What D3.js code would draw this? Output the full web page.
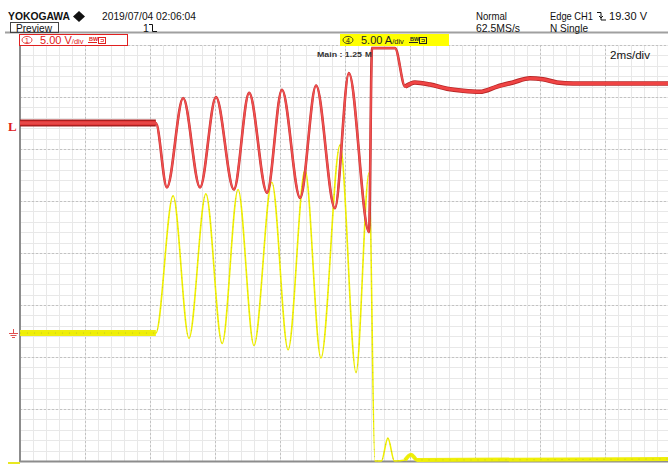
<!DOCTYPE html>
<html>
<head>
<meta charset="utf-8">
<script src="https://cdn.jsdelivr.net/npm/d3@7"></script>
<style>
  body { margin: 0; background: #fff; }
  svg { display: block; font-family: "Liberation Sans", Arial, sans-serif; }
</style>
</head>
<body>
<svg id="scope" width="668" height="464"></svg>
<script>
// CH1 voltage (V) vs time (ms, 0 = screen centre)
const ch1Time = [-10, -5.82, -5.48, -4.98, -4.46, -3.97, -3.42, -2.95, -2.40, -1.94, -1.38, -0.89, -0.31, 0.12, 0.74,
                 0.83, 1.54, 1.85, 2.15, 2.62, 3.14, 3.63, 4.15, 4.68, 5.17, 5.69, 6.09, 6.52, 7.02, 7.45, 10];
const ch1Volt = [20.2, 20.2, 14.0, 22.6, 14.0, 22.7, 13.8, 23.1, 13.5, 23.4, 13.0, 23.8, 12.0, 25.0, 9.7,
                 27.4, 27.4, 23.7, 24.1, 23.9, 23.5, 23.3, 23.2, 23.7, 24.1, 24.5, 24.4, 24.1, 24.0, 24.0, 24.0];

// CH4 current (A) vs time (ms)
const ch4Time = [-10, -5.82, -5.29, -4.80, -4.28, -3.78, -3.29, -2.80, -2.25, -1.75, -1.23, -0.74, -0.15, 0.34, 0.74,
                 0.92, 1.12, 1.32, 1.52, 1.85, 2.03, 2.22, 10];
const ch4Amp = [12.3, 12.3, 25.5, 11.8, 25.7, 11.3, 26.1, 11.1, 26.8, 10.7, 28.0, 9.9, 30.4, 8.5, 27.7,
                0, 0, 2.2, 0, 0.1, 0.6, 0.1, 0.2];

const timeDivs = d3.range(-10, 11, 2);     // 2 ms/div, 10 div
const vertDivs = d3.range(-4, 5, 1);       // 8 div
const ch1Pos = -1.54, ch4Pos = -4;         // ground positions in div
const ch1PerDiv = 5, ch4PerDiv = 5;

const svg = d3.select('#scope');

let x = d3.scaleLinear().domain([-10, 10]).range([20, 670]);
let yDiv = d3.scaleLinear().domain([-4, 4]).range([461, 45]);
let yCh1 = d3.scaleLinear()
  .domain([(-4 - ch1Pos) * ch1PerDiv, (4 - ch1Pos) * ch1PerDiv]).range([461, 45]);
let yCh4 = d3.scaleLinear()
  .domain([(-4 - ch4Pos) * ch4PerDiv, (4 - ch4Pos) * ch4PerDiv]).range([461, 45]);

// grid
let grid = svg.append('g').attr('shape-rendering', 'crispEdges');

grid.selectAll('.vmin').data(d3.range(-10, 10.001, 0.4)).join('line')
  .attr('x1', d => Math.round(x(d)) + 0.5).attr('x2', d => Math.round(x(d)) + 0.5)
  .attr('y1', 45).attr('y2', 461)
  .attr('stroke', '#e8e8e8');
grid.selectAll('.hmin').data(d3.range(-4, 4.001, 0.2)).join('line')
  .attr('y1', d => Math.round(yDiv(d)) + 0.5).attr('y2', d => Math.round(yDiv(d)) + 0.5)
  .attr('x1', 20).attr('x2', 668)
  .attr('stroke', '#e8e8e8');
grid.selectAll('.vmaj').data(timeDivs).join('line')
  .attr('x1', d => Math.round(x(d)) + 0.5).attr('x2', d => Math.round(x(d)) + 0.5)
  .attr('y1', 45).attr('y2', 461)
  .attr('stroke', '#c2c2c2').attr('stroke-dasharray', '2,2');
grid.selectAll('.hmaj').data(vertDivs).join('line')
  .attr('y1', d => Math.round(yDiv(d)) + 0.5).attr('y2', d => Math.round(yDiv(d)) + 0.5)
  .attr('x1', 20).attr('x2', 668)
  .attr('stroke', '#c2c2c2').attr('stroke-dasharray', '2,2');

// frame
svg.append('line').attr('x1', 20).attr('x2', 20).attr('y1', 45).attr('y2', 462)
  .attr('stroke', '#8c8c8c').attr('stroke-width', 2);
svg.append('line').attr('x1', 19).attr('x2', 668).attr('y1', 461.5).attr('y2', 461.5)
  .attr('stroke', '#8c8c8c').attr('stroke-width', 2);
svg.append('line').attr('x1', 5).attr('x2', 668).attr('y1', 32.5).attr('y2', 32.5)
  .attr('stroke', '#a0a0a0').attr('stroke-width', 2);

// traces
svg.append('clipPath').attr('id', 'clip')
  .append('rect').attr('x', 20).attr('y', 44).attr('width', 650).attr('height', 419);

let ch1 = ch1Time.map((t, i) => ({ t: t, v: ch1Volt[i] }));
let ch4 = ch4Time.map((t, i) => ({ t: t, v: ch4Amp[i] }));

let line1 = d3.line().x(d => x(d.t)).y(d => yCh1(d.v)).curve(d3.curveMonotoneX);
let line4 = d3.line().x(d => x(d.t)).y(d => yCh4(d.v)).curve(d3.curveMonotoneX);

let traces = svg.append('g').attr('clip-path', 'url(#clip)').attr('fill', 'none')
  .attr('stroke-linejoin', 'round');

// CH4 (yellow)
traces.append('path').attr('d', line4(ch4.filter(d => d.t <= -5.82)))
  .attr('stroke', '#eeee10').attr('stroke-width', 6);
traces.append('path').attr('d', line4(ch4.filter(d => d.t >= 1.85)))
  .attr('stroke', '#eeee10').attr('stroke-width', 4);
traces.append('path').attr('d', line4(ch4))
  .attr('stroke', '#f0f000').attr('stroke-width', 1.6);
traces.append('path').attr('d', line4(ch4))
  .attr('stroke', '#9a9a50').attr('stroke-width', 0.8).attr('stroke-opacity', 0.6)
  .attr('stroke-dasharray', '1,6');

// CH1 (red)
traces.append('path').attr('d', line1(ch1.filter(d => d.t <= -5.82)))
  .attr('stroke', '#a82020').attr('stroke-width', 7);
traces.append('path').attr('d', line1(ch1.filter(d => d.t <= -5.82)))
  .attr('stroke', '#ee3c3c').attr('stroke-width', 4);
traces.append('path').attr('d', line1(ch1.filter(d => d.t >= 1.8)))
  .attr('stroke', '#b82828').attr('stroke-width', 4.6);
traces.append('path').attr('d', line1(ch1))
  .attr('stroke', '#c83030').attr('stroke-width', 2.6);
traces.append('path').attr('d', line1(ch1))
  .attr('stroke', '#f05050').attr('stroke-width', 1.6);
traces.append('path').attr('d', line1(ch1.filter(d => d.t >= 1.8)))
  .attr('stroke', '#f04444').attr('stroke-width', 2.8);

// left markers
svg.append('text').attr('x', 8).attr('y', 131).text('L')
  .attr('font-family', '"Liberation Serif", serif').attr('font-weight', 'bold')
  .attr('font-size', 13).attr('fill', '#e02020');
let gnd = svg.append('g').attr('stroke', '#e05050').attr('stroke-width', 1);
gnd.append('line').attr('x1', 13.5).attr('x2', 13.5).attr('y1', 329).attr('y2', 333);
gnd.append('line').attr('x1', 9).attr('x2', 18).attr('y1', 333.5).attr('y2', 333.5);
gnd.append('line').attr('x1', 10.5).attr('x2', 16.5).attr('y1', 335.5).attr('y2', 335.5);
gnd.append('line').attr('x1', 12).attr('x2', 15).attr('y1', 337.5).attr('y2', 337.5);
svg.append('path').attr('d', 'M8,462 L20,462 L20,464 L8,464 Z').attr('fill', '#e8e820');

// header
let head = svg.append('g').attr('fill', '#111');
head.append('text').attr('x', 8).attr('y', 20).text('YOKOGAWA')
  .attr('font-size', 11).attr('font-weight', 'bold')
  .attr('textLength', 62).attr('lengthAdjust', 'spacingAndGlyphs');
head.append('path').attr('d', 'M79,11 L85,16.5 L79,22 L73,16.5 Z');
head.append('text').attr('x', 102).attr('y', 20).text('2019/07/04 02:06:04')
  .attr('font-size', 10.5).attr('textLength', 94).attr('lengthAdjust', 'spacingAndGlyphs');
head.append('rect').attr('x', 10.5).attr('y', 22.5).attr('width', 48).attr('height', 10)
  .attr('fill', 'none').attr('stroke', '#444');
head.append('text').attr('x', 16).attr('y', 31.5).text('Preview')
  .attr('font-size', 10.5).attr('textLength', 36).attr('lengthAdjust', 'spacingAndGlyphs');
head.append('text').attr('x', 143).attr('y', 31.5).text('1').attr('font-size', 10.5);
head.append('path').attr('d', 'M149,24.5 H152.5 V31.5 H157').attr('fill', 'none').attr('stroke', '#111');

head.append('text').attr('x', 476).attr('y', 20).text('Normal')
  .attr('font-size', 10.5).attr('textLength', 31).attr('lengthAdjust', 'spacingAndGlyphs');
head.append('text').attr('x', 476).attr('y', 31.5).text('62.5MS/s')
  .attr('font-size', 10.5).attr('textLength', 44).attr('lengthAdjust', 'spacingAndGlyphs');
head.append('text').attr('x', 550).attr('y', 20).text('Edge CH1')
  .attr('font-size', 10.5).attr('textLength', 43).attr('lengthAdjust', 'spacingAndGlyphs');
head.append('path').attr('d', 'M597,12.5 H601 V20 H606 M599,16 L601,18 L603,16')
  .attr('fill', 'none').attr('stroke', '#111');
head.append('text').attr('x', 609).attr('y', 20).text('19.30 V')
  .attr('font-size', 10.5).attr('textLength', 38).attr('lengthAdjust', 'spacingAndGlyphs');
head.append('text').attr('x', 550).attr('y', 31.5).text('N Single')
  .attr('font-size', 10.5).attr('textLength', 38).attr('lengthAdjust', 'spacingAndGlyphs');

// channel labels
function chLabel(x0, fill, stroke, color, num, unit) {
  let g = svg.append('g');
  g.append('rect').attr('x', x0 + 0.5).attr('y', 34.5).attr('width', 108).attr('height', 11)
    .attr('fill', fill).attr('stroke', stroke);
  g.append('ellipse').attr('cx', x0 + 8).attr('cy', 40).attr('rx', 5).attr('ry', 3.6)
    .attr('fill', 'none').attr('stroke', color).attr('stroke-width', 0.8);
  g.append('text').attr('x', x0 + 8).attr('y', 42.5).attr('text-anchor', 'middle')
    .attr('font-size', 7).attr('fill', color).text(num);
  let t = g.append('text').attr('x', x0 + 21).attr('y', 44).attr('fill', color).attr('font-size', 11);
  t.append('tspan').text('5.00 ' + unit);
  t.append('tspan').attr('font-size', 7.5).text('/div');
  g.append('text').attr('x', x0 + 70).attr('y', 40.5).attr('font-size', 5.5).attr('font-weight', 'bold')
    .attr('fill', color).text('BW');
  g.append('line').attr('x1', x0 + 69).attr('x2', x0 + 78).attr('y1', 42.5).attr('y2', 42.5)
    .attr('stroke', color);
  g.append('rect').attr('x', x0 + 79.5).attr('y', 37.5).attr('width', 7).attr('height', 6)
    .attr('fill', 'none').attr('stroke', color);
  g.append('path').attr('d', `M${x0 + 81.5},39.5 h3 v2 h-3`).attr('fill', 'none')
    .attr('stroke', color).attr('stroke-width', 0.7);
}
chLabel(19, '#fff', '#e02020', '#e02020', '1', 'V');
chLabel(340, '#ffff00', '#ffff00', '#222', '4', 'A');

svg.append('text').attr('x', 317).attr('y', 57).text('Main : 1.25')
  .attr('font-size', 8).attr('font-weight', 'bold').attr('fill', '#333')
  .attr('textLength', 45).attr('lengthAdjust', 'spacingAndGlyphs');
svg.append('text').attr('x', 365).attr('y', 57).text('M')
  .attr('font-size', 8).attr('font-weight', 'bold').attr('fill', '#333');

svg.append('text').attr('x', 610).attr('y', 59).text('2ms/div')
  .attr('font-size', 11.5).attr('fill', '#111')
  .attr('textLength', 40).attr('lengthAdjust', 'spacingAndGlyphs');
</script>
</body>
</html>
